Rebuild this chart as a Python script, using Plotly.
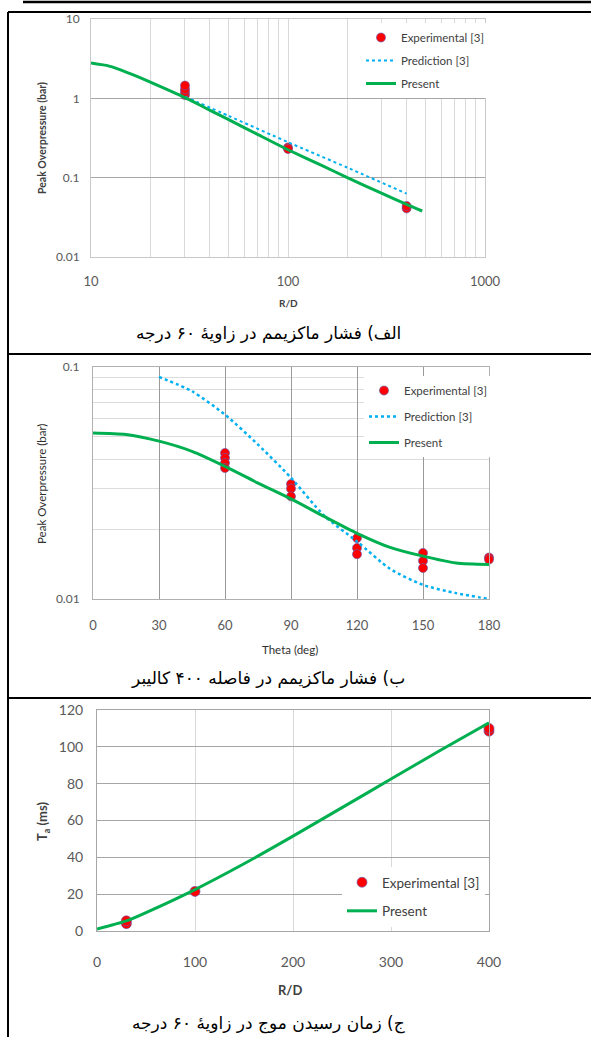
import plotly.graph_objects as go

W, H = 591, 1037

# ---------------- Panel 1 data (log-log, R/D vs peak overpressure) ----------------
p1_present_x = [10, 12, 14, 17, 20, 30, 40, 50, 70, 100, 150, 200, 300, 400, 480]
p1_present_y = [2.8, 2.6, 2.3, 1.9, 1.6, 1.02, 0.711, 0.538, 0.352, 0.225, 0.141, 0.1,
                0.0635, 0.046, 0.038]
p1_pred_x = [30, 50, 100, 200, 400]
p1_pred_y = [1.05, 0.6, 0.28, 0.134, 0.063]
p1_exp_x = [30, 30, 30, 30, 100, 100, 400, 400]
p1_exp_y = [1.1, 1.2, 1.3, 1.45, 0.24, 0.23, 0.041, 0.044]

# ---------------- Panel 2 data (theta vs peak overpressure) ----------------
p2_present_x = [0, 15, 30, 45, 60, 75, 90, 105, 120, 135, 150, 165, 180]
p2_present_y = [0.052, 0.0512, 0.0479, 0.0433, 0.0373, 0.0316, 0.027, 0.0227,
                0.0192, 0.0167, 0.0153, 0.0143, 0.0141]
p2_pred_x = [30, 45, 60, 75, 90, 105, 120, 135, 150, 165, 180]
p2_pred_y = [0.0906, 0.0786, 0.0623, 0.0463, 0.0333, 0.0229, 0.0177, 0.0135,
             0.0115, 0.0106, 0.0100]
p2_exp_x = [60, 60, 60, 60, 90, 90, 90, 120, 120, 120, 150, 150, 150, 180, 180]
p2_exp_y = [0.0426, 0.0406, 0.0386, 0.0367, 0.0313, 0.0299, 0.0277, 0.0183,
            0.0166, 0.0156, 0.0158, 0.0146, 0.0136, 0.0151, 0.0148]

# ---------------- Panel 3 data (R/D vs arrival time) ----------------
p3_present_x = [0, 30, 50, 100, 150, 200, 250, 300, 350, 400]
p3_present_y = [1.1, 5.5, 10.0, 22.5, 36.5, 51.5, 67.0, 82.5, 98.0, 113.0]
p3_exp_x = [30, 30, 100, 400, 400]
p3_exp_y = [4.0, 5.5, 21.5, 108.5, 110.0]

# tick labels
p1_xticks = [10, 100, 1000]
p1_yticks = [0.01, 0.1, 1, 10]
p1_xminor = [20, 30, 40, 50, 60, 70, 80, 90, 200, 300, 400, 500, 600, 700, 800, 900]
p2_yticks = [0.01, 0.1]
p2_yminor = [0.02, 0.03, 0.04, 0.05, 0.06, 0.07, 0.08, 0.09]

names = ["Experimental [3]", "Prediction [3]", "Present"]
captions = [
    "الف) فشار ماکزیمم در زاویهٔ ۶۰ درجه",
    "ب) فشار ماکزیمم در فاصله ۴۰۰ کالیبر",
    "ج) زمان رسیدن موج در زاویهٔ ۶۰ درجه",
]

RED = "#ff0000"
GREEN = "#00b050"
BLUE = "#00b0f0"
FONT = "Lato"
TICKC = "#595959"


def px_x(p):
    return p / W


def px_y(p):
    return 1 - p / H


marker = dict(color=RED, size=9, line=dict(color="rgba(110,90,170,0.7)", width=1))

fig = go.Figure()

# Panel 1
fig.add_trace(go.Scatter(x=p1_exp_x, y=p1_exp_y, mode="markers", name=names[0], marker=marker,
                         xaxis="x", yaxis="y", legend="legend", legendgroup="a", cliponaxis=False))
fig.add_trace(go.Scatter(x=p1_pred_x, y=p1_pred_y, mode="lines", name=names[1],
                         line=dict(color=BLUE, width=2, dash="dot", shape="spline", smoothing=0.5),
                         xaxis="x", yaxis="y", legend="legend", legendgroup="b"))
fig.add_trace(go.Scatter(x=p1_present_x, y=p1_present_y, mode="lines", name=names[2],
                         line=dict(color=GREEN, width=3, shape="spline", smoothing=0.5),
                         xaxis="x", yaxis="y", legend="legend", legendgroup="c"))

# Panel 2
fig.add_trace(go.Scatter(x=p2_exp_x, y=p2_exp_y, mode="markers", name=names[0], marker=marker,
                         xaxis="x2", yaxis="y2", legend="legend2", legendgroup="a2", cliponaxis=False))
fig.add_trace(go.Scatter(x=p2_pred_x, y=p2_pred_y, mode="lines", name=names[1],
                         line=dict(color=BLUE, width=2.5, dash="dot", shape="spline", smoothing=0.7),
                         cliponaxis=False,
                         xaxis="x2", yaxis="y2", legend="legend2", legendgroup="b2"))
fig.add_trace(go.Scatter(x=p2_present_x, y=p2_present_y, mode="lines", name=names[2],
                         line=dict(color=GREEN, width=3, shape="spline", smoothing=0.7),
                         xaxis="x2", yaxis="y2", legend="legend2", legendgroup="c2"))

# Panel 3
fig.add_trace(go.Scatter(x=p3_exp_x, y=p3_exp_y, mode="markers", name=names[0],
                         marker=dict(marker, size=10),
                         xaxis="x3", yaxis="y3", legend="legend3", legendgroup="a3", cliponaxis=False))
fig.add_trace(go.Scatter(x=p3_present_x, y=p3_present_y, mode="lines", name=names[2],
                         line=dict(color=GREEN, width=3, shape="spline", smoothing=0.7),
                         xaxis="x3", yaxis="y3", legend="legend3", legendgroup="c3"))

tickfont = dict(family=FONT, size=12, color=TICKC)

common = dict(ticks="", zeroline=False, showline=True, mirror=True, automargin=False)

fig.update_layout(
    width=W, height=H,
    margin=dict(l=0, r=0, t=0, b=0, pad=0, autoexpand=False),
    paper_bgcolor="white", plot_bgcolor="white",
    font=dict(family=FONT, color="#404040"),
    # panel 1 axes
    xaxis=dict(common, type="log", range=[1, 3], domain=[px_x(91), px_x(485)],
               tickvals=p1_xticks, ticktext=[str(v) for v in p1_xticks],
               tickfont=dict(tickfont, size=13), ticklabelstandoff=12,
               showgrid=True, gridcolor="#d9d9d9", gridwidth=1,
               minor=dict(tickvals=p1_xminor, showgrid=True, gridcolor="#d9d9d9", ticks=""),
               linecolor="#c8c8c8", anchor="y"),
    yaxis=dict(common, type="log", range=[-2, 1], domain=[px_y(257), px_y(19)],
               tickvals=p1_yticks, ticktext=["0.01", "0.1", "1", "10"],
               tickfont=tickfont, ticklabelstandoff=8,
               showgrid=True, gridcolor="#a6a6a6", linecolor="#c8c8c8", anchor="x"),
    # panel 2 axes
    xaxis2=dict(common, range=[0, 180], dtick=30, domain=[px_x(93), px_x(489)],
                tickfont=dict(tickfont, size=13), ticklabelstandoff=14,
                showgrid=True, gridcolor="#9a9a9a", linecolor="#b0b0b0", anchor="y2"),
    yaxis2=dict(common, type="log", range=[-2, -1], domain=[px_y(599), px_y(367)],
                tickvals=p2_yticks, ticktext=["0.01", "0.1"],
                tickfont=tickfont, ticklabelstandoff=10,
                showgrid=True, gridcolor="#b0b0b0", linecolor="#b0b0b0",
                minor=dict(tickvals=p2_yminor, showgrid=True, gridcolor="#dcdcdc", ticks=""),
                anchor="x2"),
    # panel 3 axes
    xaxis3=dict(common, range=[0, 400], dtick=100, domain=[px_x(97), px_x(489)],
                tickfont=dict(tickfont, size=14), ticklabelstandoff=18,
                showgrid=True, gridcolor="#d9d9d9", linecolor="#a6a6a6", anchor="y3"),
    yaxis3=dict(common, range=[0, 120], dtick=20, domain=[px_y(931), px_y(710)],
                tickfont=dict(tickfont, size=14), ticklabelstandoff=10,
                showgrid=True, gridcolor="#a6a6a6", linecolor="#a6a6a6", anchor="x3"),
    legend=dict(x=px_x(361), y=px_y(23), xanchor="left", yanchor="top",
                bgcolor="white", font=dict(family=FONT, size=11.5, color="#404040"),
                traceorder="grouped", tracegroupgap=4, itemwidth=30),
    legend2=dict(x=px_x(364), y=px_y(376), xanchor="left", yanchor="top",
                 bgcolor="white", font=dict(family=FONT, size=11.5, color="#404040"),
                 traceorder="grouped", tracegroupgap=7, itemwidth=30),
    legend3=dict(x=px_x(342), y=px_y(867), xanchor="left", yanchor="top",
                 bgcolor="white", font=dict(family=FONT, size=13.5, color="#404040"),
                 traceorder="grouped", tracegroupgap=8, itemwidth=30),
)

ann = []
# axis titles
ann.append(dict(text="<b>Peak Overpressure (bar)</b>", x=px_x(42), y=px_y(138), textangle=-90,
                font=dict(family=FONT, size=10.5, color="#404040")))
ann.append(dict(text="<b>R/D</b>", x=px_x(288), y=px_y(303),
                font=dict(family=FONT, size=10, color="#404040")))
ann.append(dict(text="Peak Overpressure (bar)", x=px_x(42), y=px_y(484), textangle=-90,
                font=dict(family=FONT, size=11.5, color="#303030")))
ann.append(dict(text="Theta (deg)", x=px_x(290), y=px_y(649),
                font=dict(family=FONT, size=11.5, color="#303030")))
ann.append(dict(text="<b>T<sub>a</sub> (ms)</b>", x=px_x(43), y=px_y(822), textangle=-90,
                font=dict(family=FONT, size=13, color="#404040")))
ann.append(dict(text="<b>R/D</b>", x=px_x(290), y=px_y(990),
                font=dict(family=FONT, size=13, color="#404040")))
# captions
for txt, yc in zip(captions, [333, 678, 1023]):
    ann.append(dict(text=txt, x=px_x(268), y=px_y(yc),
                    font=dict(family="DejaVu Sans", size=17, color="black")))
for a in ann:
    a.update(xref="paper", yref="paper", showarrow=False, xanchor="center", yanchor="middle")
fig.update_layout(annotations=ann)

# border lines of the figure frame
shapes = [
    dict(x0=px_x(23), x1=1, y0=px_y(2), y1=px_y(2), width=2.5),
    dict(x0=px_x(8), x1=1, y0=px_y(12), y1=px_y(12), width=2),
    dict(x0=px_x(8), x1=px_x(8), y0=px_y(12), y1=0, width=2),
    dict(x0=px_x(8), x1=1, y0=px_y(354), y1=px_y(354), width=2),
    dict(x0=px_x(8), x1=1, y0=px_y(698), y1=px_y(698), width=2),
]
fig.update_layout(shapes=[dict(type="line", xref="paper", yref="paper", x0=s["x0"], x1=s["x1"],
                               y0=s["y0"], y1=s["y1"], line=dict(color="black", width=s["width"]))
                          for s in shapes])

fig.write_html("out.html", config={"displayModeBar": False},
               post_script="document.body.style.margin='0px';")
